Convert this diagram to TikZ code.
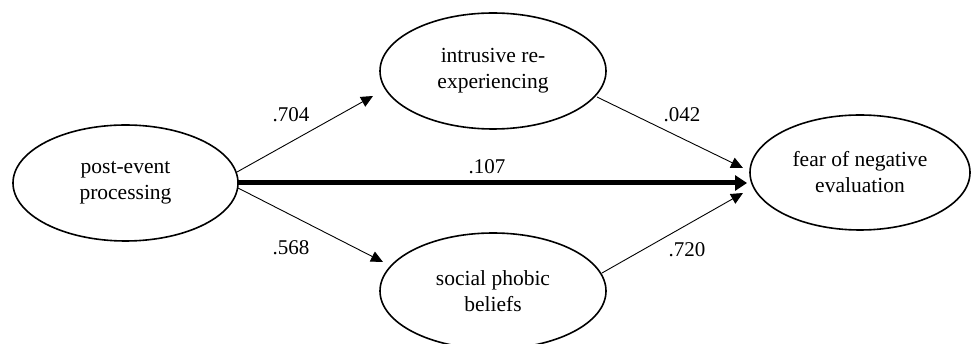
\documentclass[tikz,border=0pt]{standalone}
\usepackage{fontspec}
\setmainfont{Liberation Serif}
\usetikzlibrary{arrows.meta,shapes.geometric}
\tikzset{
  var/.style={ellipse, draw, line width=1.6pt, inner sep=0pt, align=center,
    font=\fontsize{21.5}{26}\selectfont},
  path/.style={line width=0.9pt, -{Triangle[length=12pt,width=11pt]}},
  boldpath/.style={line width=5pt, -{Triangle[length=12pt,width=15pt]}},
  coef/.style={font=\fontsize{21}{26}\selectfont, inner sep=0pt}
}
\begin{document}
\begin{tikzpicture}[x=1pt,y=-1pt]
\useasboundingbox (0,0) rectangle (974,344);
\node[var, minimum width=225pt, minimum height=116pt] (pep) at (125.5,183) {post-event\\processing};
\node[var, minimum width=226pt, minimum height=116pt] (int) at (493,71) {intrusive re-\\experiencing};
\node[var, minimum width=226pt, minimum height=116pt] (soc) at (493,291) {social phobic\\beliefs};
\node[var, minimum width=220pt, minimum height=115pt] (fne) at (860,172.5) {fear of negative\\evaluation};

\coordinate (t1) at (373,96);
\coordinate (t2) at (383,262);
\coordinate (t3) at (743,168);
\coordinate (t4) at (743,193);
\coordinate (s0) at (238,183);
\coordinate (t0) at (747,183);
\coordinate (s1) at (237,172);
\coordinate (s2) at (238,188);
\coordinate (s3) at (597,97);
\coordinate (s4) at (602,273);

\draw[path] (s1) -- (t1);
\draw[path] (s2) -- (t2);
\draw[path] (s3) -- (t3);
\draw[path] (s4) -- (t4);
\draw[boldpath] (s0) -- (t0);

\node[coef] (c1) at (291,115) {.704};
\node[coef] (c2) at (291,248) {.568};
\node[coef] (c3) at (682,115) {.042};
\node[coef] (c4) at (687,250) {.720};
\node[coef] (c0) at (487,167) {.107};
\end{tikzpicture}
\end{document}
